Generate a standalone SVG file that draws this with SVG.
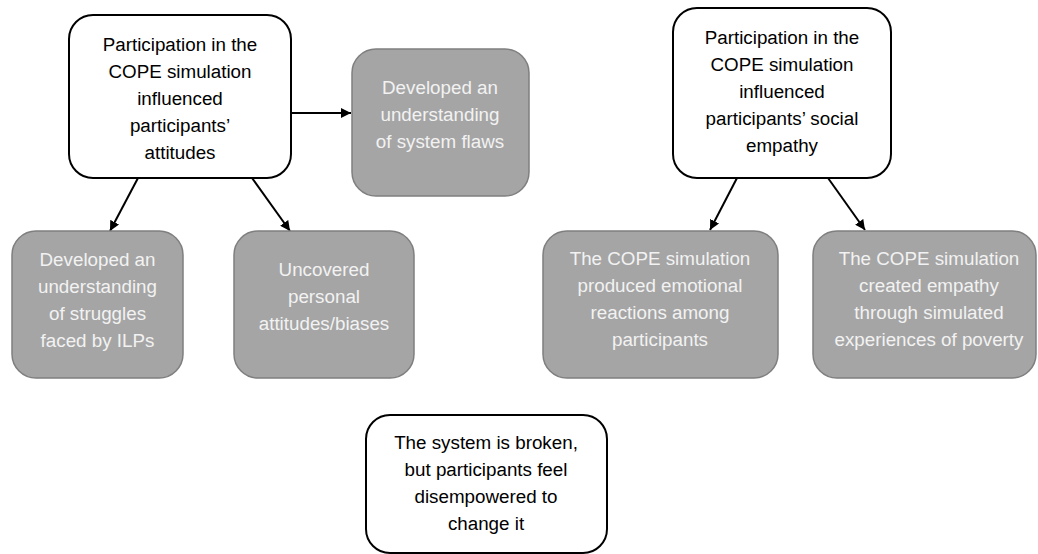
<svg xmlns="http://www.w3.org/2000/svg" width="1038" height="554" viewBox="0 0 1038 554">
<defs>
<marker id="ah" viewBox="0 0 10 10" refX="10" refY="5" markerWidth="10" markerHeight="10" markerUnits="userSpaceOnUse" orient="auto">
<path d="M0,0 L10,5 L0,10 z" fill="#000"/>
</marker>
<style>
.w{fill:#fff;stroke:#000;stroke-width:2}
.g{fill:#a5a5a5;stroke:#7f7f7f;stroke-width:1.5}
text{font-family:"Liberation Sans",Arial,sans-serif;font-size:18.8px;text-anchor:middle}
.tw{fill:#000}
.tg{fill:#f2f2f2}
.c{stroke:#000;stroke-width:2;fill:none;marker-end:url(#ah)}
</style>
</defs>
<rect width="1038" height="554" fill="#fff"/>
<g id="connectors">
<line class="c" x1="292" y1="113" x2="351" y2="113"/>
<line class="c" x1="138" y1="178" x2="110" y2="231"/>
<line class="c" x1="252" y1="178" x2="290" y2="231"/>
<line class="c" x1="737" y1="178" x2="710" y2="230"/>
<line class="c" x1="828" y1="178" x2="865" y2="230"/>
</g>
<g id="attitudes">
<rect class="w" x="69" y="15" width="222" height="163" rx="24"/>
<text class="tw" x="180" y="51">Participation in the</text>
<text class="tw" x="180" y="78">COPE simulation</text>
<text class="tw" x="180" y="105">influenced</text>
<text class="tw" x="180" y="132">participants’</text>
<text class="tw" x="180" y="159">attitudes</text>
</g>
<g id="flaws">
<rect class="g" x="352" y="49" width="177" height="147" rx="24"/>
<text class="tg" x="440" y="94">Developed an</text>
<text class="tg" x="440" y="121">understanding</text>
<text class="tg" x="440" y="148">of system flaws</text>
</g>
<g id="struggles">
<rect class="g" x="12" y="231" width="171" height="147" rx="24"/>
<text class="tg" x="97.5" y="266">Developed an</text>
<text class="tg" x="97.5" y="293">understanding</text>
<text class="tg" x="97.5" y="320">of struggles</text>
<text class="tg" x="97.5" y="347">faced by ILPs</text>
</g>
<g id="biases">
<rect class="g" x="234" y="231" width="180" height="147" rx="24"/>
<text class="tg" x="324" y="276">Uncovered</text>
<text class="tg" x="324" y="303">personal</text>
<text class="tg" x="324" y="330">attitudes/biases</text>
</g>
<g id="empathy">
<rect class="w" x="673" y="8" width="218" height="170" rx="24"/>
<text class="tw" x="782" y="44">Participation in the</text>
<text class="tw" x="782" y="71">COPE simulation</text>
<text class="tw" x="782" y="98">influenced</text>
<text class="tw" x="782" y="125">participants’ social</text>
<text class="tw" x="782" y="152">empathy</text>
</g>
<g id="emotional">
<rect class="g" x="543" y="231" width="235" height="147" rx="24"/>
<text class="tg" x="660" y="265">The COPE simulation</text>
<text class="tg" x="660" y="292">produced emotional</text>
<text class="tg" x="660" y="319">reactions among</text>
<text class="tg" x="660" y="346">participants</text>
</g>
<g id="poverty">
<rect class="g" x="813" y="231" width="223" height="147" rx="24"/>
<text class="tg" x="929" y="265">The COPE simulation</text>
<text class="tg" x="929" y="292">created empathy</text>
<text class="tg" x="929" y="319">through simulated</text>
<text class="tg" x="929" y="346">experiences of poverty</text>
</g>
<g id="broken">
<rect class="w" x="366" y="415" width="241" height="138" rx="24"/>
<text class="tw" x="486" y="449">The system is broken,</text>
<text class="tw" x="486" y="476">but participants feel</text>
<text class="tw" x="486" y="503">disempowered to</text>
<text class="tw" x="486" y="530">change it</text>
</g>
</svg>
